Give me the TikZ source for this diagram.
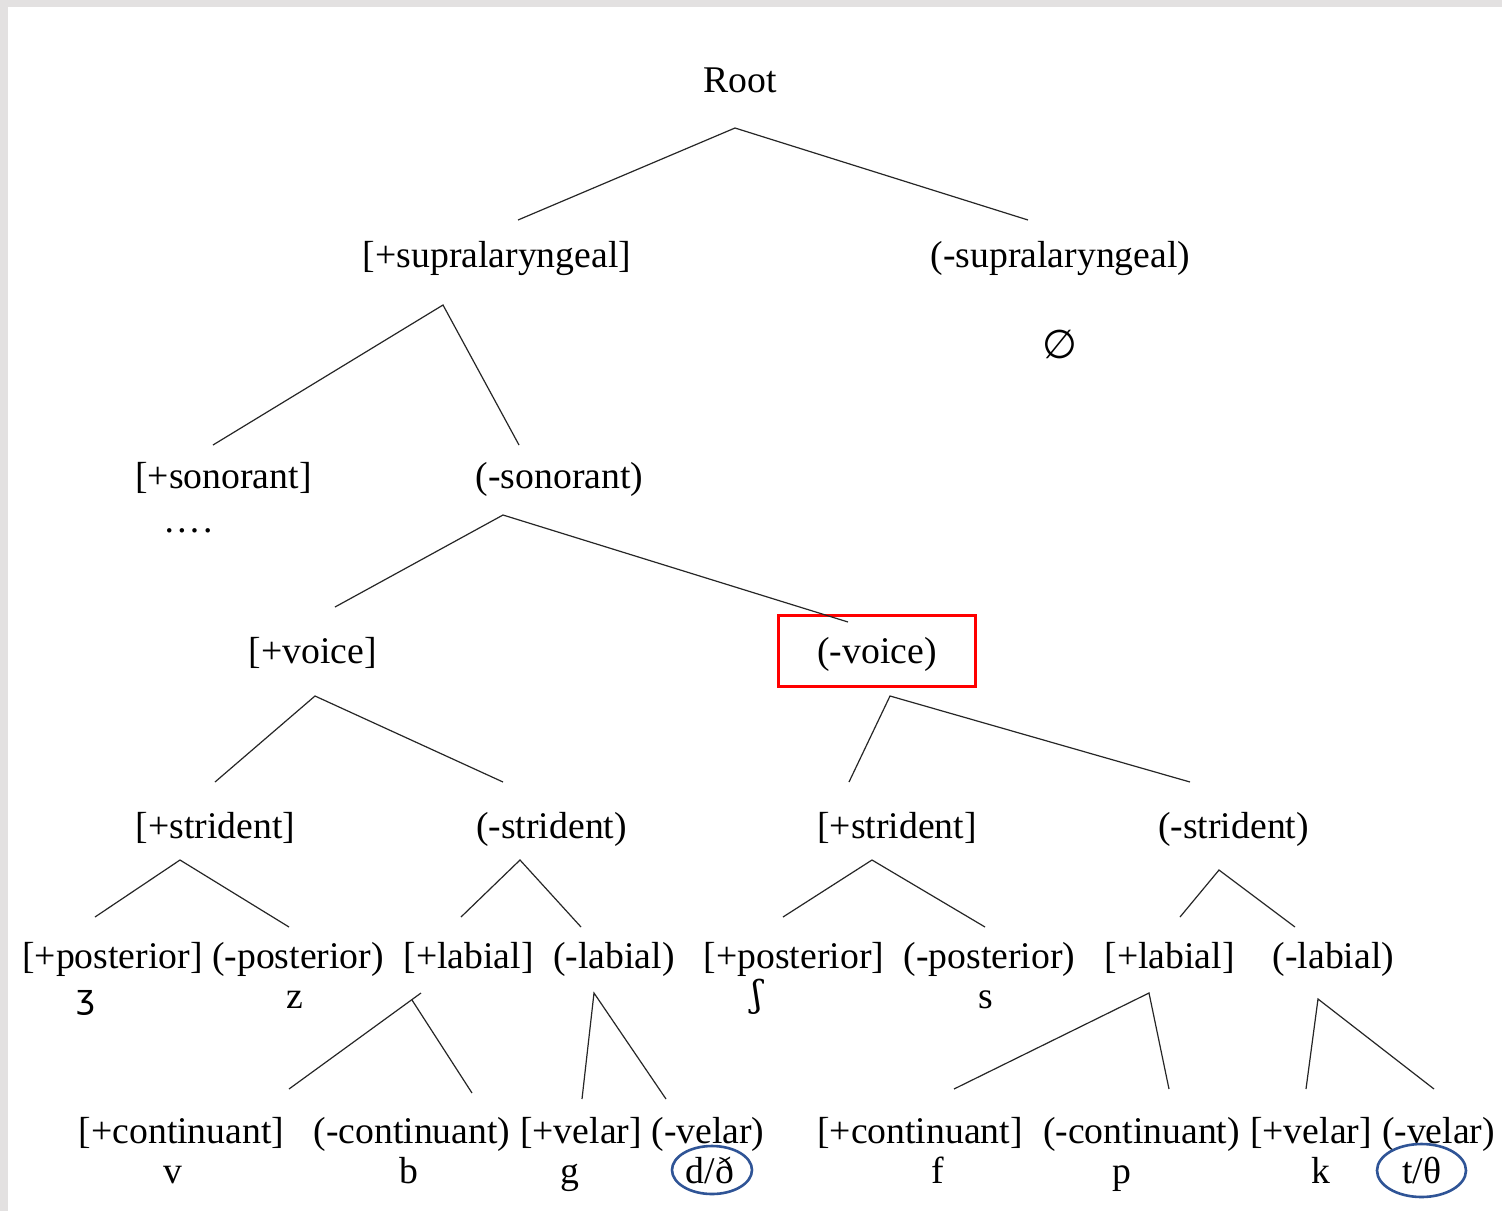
\documentclass[tikz,border=0pt]{standalone}
\usepackage{fontspec}
\setmainfont{Liberation Serif}
\newfontfamily\ipasans{DejaVu Sans}
\newfontfamily\ipaserif{DejaVu Serif}

\definecolor{framegrey}{HTML}{E3E1E1}
\definecolor{markred}{HTML}{FF0000}
\definecolor{markblue}{HTML}{2F5496}

\begin{document}
\begin{tikzpicture}[x=1pt,y=-1pt,
  feat/.style={inner sep=0pt, anchor=base, font=\fontsize{37.7}{45}\selectfont},
  seg/.style={inner sep=0pt, anchor=base, font=\fontsize{37.7}{45}\selectfont},
  branch/.style={draw=black!85, line width=1.2pt},
  highlight/.style={draw=markred, line width=3pt},
  ring/.style={draw=markblue, line width=2.6pt}]

\useasboundingbox (0,0) rectangle (1502,1211);
\fill[white] (0,0) rectangle (1502,1211);
% window frame
\fill[framegrey] (0,0) rectangle (1502,7);
\fill[framegrey] (0,0) rectangle (8,1211);

% ---------- feature labels ----------
\node[feat] (root)   at (740.5,92)  {Root};
\node[feat] (supP)   at (497,267)   {[+supralaryngeal]};
\node[feat] (supM)   at (1060.5,267){(-supralaryngeal)};
\node[inner sep=0pt, font=\ipasans\fontsize{40}{48}\selectfont] (null) at (1060,344) {∅};

\node[feat] (sonP)   at (223.5,488) {[+sonorant]};
\node[feat] (dots)   at (188,532)   {…\kern0.07em.};
\node[feat] (sonM)   at (559.5,488) {(-sonorant)};

\node[feat] (voiP)   at (313,663)   {[+voice]};
\node[feat] (voiM)   at (877,663)   {(-voice)};
\node[highlight, inner sep=0pt, minimum width=197pt, minimum height=71pt] (voiBox) at (876.5,650.5) {};

\node[feat] (strLP)  at (215.5,838) {[+strident]};
\node[feat] (strLM)  at (551.5,838) {(-strident)};
\node[feat] (strRP)  at (897,838)   {[+strident]};
\node[feat] (strRM)  at (1233.5,838){(-strident)};

\node[feat] (postLP) at (112.5,968) {[+posterior]};
\node[feat] (postLM) at (298,968)   {(-posterior)};
\node[feat] (labLP)  at (468.5,968) {[+labial]};
\node[feat] (labLM)  at (614,968)   {(-labial)};
\node[feat] (postRP) at (794,968)   {[+posterior]};
\node[feat] (postRM) at (989.5,968) {(-posterior)};
\node[feat] (labRP)  at (1169.5,968){[+labial]};
\node[feat] (labRM)  at (1333.5,968){(-labial)};

\node[feat] (contLP) at (181.5,1143){[+continuant]};
\node[feat] (contLM) at (412,1143)  {(-continuant)};
\node[feat] (velLP)  at (581,1143)  {[+velar]};
\node[feat] (velLM)  at (708,1143)  {(-velar)};
\node[feat] (contRP) at (920,1143)  {[+continuant]};
\node[feat] (contRM) at (1141.5,1143){(-continuant)};
\node[feat] (velRP)  at (1311,1143) {[+velar]};
\node[feat] (velRM)  at (1438.5,1143){(-velar)};

% ---------- segments ----------
\node[inner sep=0pt, anchor=base, font=\ipasans\fontsize{33}{40}\selectfont] (zh) at (86,1008) {ʒ};
\node[seg] (z)  at (295,1008)  {z};
\node[inner sep=0pt, anchor=base, font=\ipaserif\fontsize{36}{42}\selectfont] (sh) at (757,1006) {ʃ};
\node[seg] (s)  at (986,1008)  {s};
\node[seg] (v)  at (173,1183)  {v};
\node[seg] (b)  at (409,1183)  {b};
\node[seg] (g)  at (570,1183)  {g};
\node[seg] (d)  at (710,1183)  {d/ð};
\node[seg] (f)  at (938,1183)  {f};
\node[seg] (p)  at (1122,1183) {p};
\node[seg] (k)  at (1321,1183) {k};
\node[seg] (t)  at (1422,1183) {t/θ};

% rings round the two marked segments
\draw[ring] (712,1170) ellipse [x radius=40pt, y radius=24pt];
\draw[ring] (1421.5,1170.5) ellipse [x radius=44.5pt, y radius=26.5pt];

% ---------- branch points and branch ends ----------
\coordinate (root-b)  at (735,128);
\coordinate (supP-t)  at (518,220);
\coordinate (supM-t)  at (1028,220);

\coordinate (supP-b)  at (443,305);
\coordinate (sonP-t)  at (213,445);
\coordinate (sonM-t)  at (519,445);

\coordinate (sonM-b)  at (503,515);
\coordinate (voiP-t)  at (335,607);
\coordinate (voiM-t)  at (848,622);

\coordinate (voiP-b)  at (315,696);
\coordinate (strLP-t) at (215,782);
\coordinate (strLM-t) at (503,782);

\coordinate (voiM-b)  at (890,696);
\coordinate (strRP-t) at (849,782);
\coordinate (strRM-t) at (1190,782);

\coordinate (strLP-b) at (180,860);
\coordinate (postLP-t) at (95,917);
\coordinate (postLM-t) at (289,927);

\coordinate (strLM-b) at (520,860);
\coordinate (labLP-t) at (461,917);
\coordinate (labLM-t) at (581,927);

\coordinate (strRP-b) at (872,860);
\coordinate (postRP-t) at (783,917);
\coordinate (postRM-t) at (985,927);

\coordinate (strRM-b) at (1219,870);
\coordinate (labRP-t) at (1180,917);
\coordinate (labRM-t) at (1295,927);

\coordinate (labLP-b1) at (421,993);
\coordinate (labLP-b2) at (412,1000);
\coordinate (contLP-t) at (289,1089);
\coordinate (contLM-t) at (472,1093);

\coordinate (labLM-b) at (594,993);
\coordinate (velLP-t) at (582,1099);
\coordinate (velLM-t) at (666,1099);

\coordinate (labRP-b) at (1149,993);
\coordinate (contRP-t) at (954,1089);
\coordinate (contRM-t) at (1169,1089);

\coordinate (labRM-b) at (1318,999);
\coordinate (velRP-t) at (1306,1089);
\coordinate (velRM-t) at (1434,1089);

% ---------- branches ----------
\draw[branch] (supP-t) -- (root-b) -- (supM-t);
\draw[branch] (sonP-t) -- (supP-b) -- (sonM-t);
\draw[branch] (voiP-t) -- (sonM-b) -- (voiM-t);
\draw[branch] (strLP-t) -- (voiP-b) -- (strLM-t);
\draw[branch] (strRP-t) -- (voiM-b) -- (strRM-t);
\draw[branch] (postLP-t) -- (strLP-b) -- (postLM-t);
\draw[branch] (labLP-t) -- (strLM-b) -- (labLM-t);
\draw[branch] (postRP-t) -- (strRP-b) -- (postRM-t);
\draw[branch] (labRP-t) -- (strRM-b) -- (labRM-t);
\draw[branch] (contLP-t) -- (labLP-b1);
\draw[branch] (labLP-b2) -- (contLM-t);
\draw[branch] (velLP-t) -- (labLM-b) -- (velLM-t);
\draw[branch] (contRP-t) -- (labRP-b) -- (contRM-t);
\draw[branch] (velRP-t) -- (labRM-b) -- (velRM-t);

\end{tikzpicture}
\end{document}
